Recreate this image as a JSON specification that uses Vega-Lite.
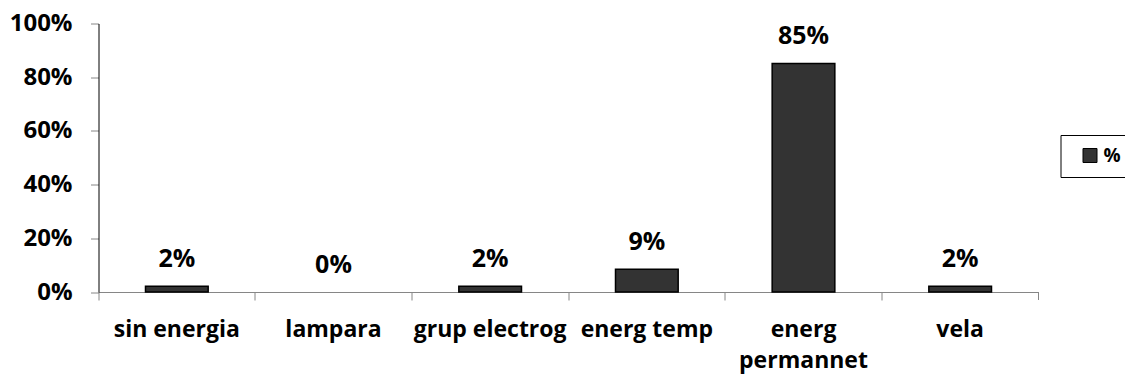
{
  "$schema": "https://vega.github.io/schema/vega-lite/v6.json",
  "width": 940,
  "height": 268.5,
  "autosize": "none",
  "padding": {"left": 98.5, "top": 23.5, "right": 86.5, "bottom": 84},
  "background": "white",
  "config": {"view": {"stroke": null}, "font": "Open Sans"},
  "data": {
    "values": [
      {"cat": "sin energia", "pct": 0.0213, "serie": "%"},
      {"cat": "lampara", "pct": 0, "serie": "%"},
      {"cat": "grup electrog", "pct": 0.0213, "serie": "%"},
      {"cat": "energ temp", "pct": 0.0851, "serie": "%"},
      {"cat": "energ permannet", "pct": 0.8511, "serie": "%"},
      {"cat": "vela", "pct": 0.0213, "serie": "%"}
    ]
  },
  "encoding": {
    "x": {
      "field": "cat",
      "type": "nominal",
      "sort": null,
      "scale": {"paddingInner": 0, "paddingOuter": 0},
      "axis": {
        "title": null,
        "bandPosition": 0,
        "labelAngle": 0,
        "labelFont": "Open Sans",
        "labelFontSize": 23,
        "labelFontWeight": "bold",
        "labelColor": "black",
        "labelPadding": 18,
        "labelLineHeight": 31,
        "labelExpr": "datum.value == 'energ permannet' ? ['energ', 'permannet'] : datum.value",
        "domainColor": "#868686",
        "tickColor": "#868686",
        "tickSize": 8,
        "labelBound": false,
        "labelOverlap": false
      }
    },
    "y": {
      "field": "pct",
      "type": "quantitative",
      "scale": {"domain": [0, 1], "nice": false},
      "axis": {
        "title": null,
        "format": ".0%",
        "values": [0, 0.2, 0.4, 0.6, 0.8, 1],
        "grid": false,
        "labelFont": "Open Sans",
        "labelFontSize": 24,
        "labelFontWeight": "bold",
        "labelColor": "black",
        "labelPadding": 18.5,
        "tickSize": 8,
        "tickColor": "#868686",
        "domainColor": "black"
      }
    }
  },
  "layer": [
    {
      "mark": {"type": "bar", "width": {"band": 0.4}, "stroke": "black", "strokeWidth": 1.5},
      "encoding": {
        "color": {
          "field": "serie",
          "type": "nominal",
          "scale": {"range": ["#333333"]},
          "legend": {
            "title": null,
            "orient": "none",
            "legendX": 962,
            "legendY": 111.5,
            "symbolType": "square",
            "symbolSize": 196,
            "symbolStrokeColor": "black",
            "symbolStrokeWidth": 1,
            "symbolOffset": 9,
            "labelOffset": 4,
            "labelFont": "Open Sans",
            "labelFontSize": 19,
            "labelFontWeight": "bold",
            "labelColor": "black",
            "strokeColor": "black",
            "fillColor": "white",
            "padding": 11
          }
        },
        "strokeOpacity": {"condition": {"test": "datum.pct == 0", "value": 0}, "value": 1}
      }
    },
    {
      "mark": {"type": "text", "dy": -19, "baseline": "alphabetic", "font": "Open Sans", "fontSize": 25, "fontWeight": "bold", "color": "black"},
      "encoding": {
        "text": {"field": "pct", "type": "quantitative", "format": ".0%"}
      }
    },
    {
      "transform": [{"filter": "datum.cat == 'vela'"}],
      "mark": {"type": "rule", "color": "#868686", "y2Offset": 8},
      "encoding": {
        "x": {"field": "cat", "type": "nominal", "sort": null, "bandPosition": 1},
        "y": {"datum": 0},
        "y2": {"datum": 0}
      }
    }
  ]
}
